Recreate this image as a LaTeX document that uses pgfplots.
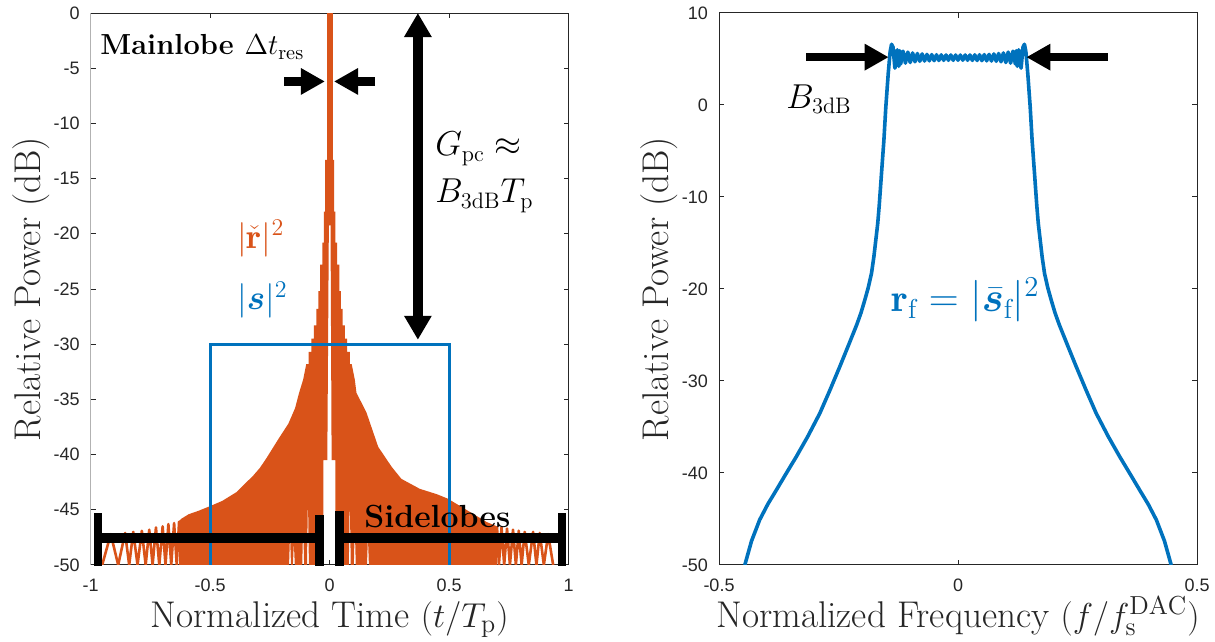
\documentclass[border=0pt]{standalone}
\usepackage{fontspec}
\usepackage{amsmath}
\usepackage{bm}
\usepackage{pgfplots}
\pgfplotsset{compat=1.18}
\usetikzlibrary{arrows.meta}

\newfontfamily\ticksans{Liberation Sans}
\definecolor{mlorange}{rgb}{0.85,0.325,0.098}
\definecolor{mlblue}{rgb}{0,0.447,0.741}
\definecolor{axgray}{gray}{0.15}

\tikzset{
  fat arrow/.style={line width=4.2pt, -{Triangle[width=12.5pt,length=12pt]}},
}
\pgfplotsset{
  panel/.style={
    scale only axis, width=239pt, height=276pt, anchor=south west,
    axis line style={axgray, line width=0.5pt},
    tick style={axgray, line width=0.5pt},
    major tick length=2.5pt,
    tick align=inside,
    /pgf/number format/assume math mode=true,
    tick label style={font=\ticksans\fontsize{9}{10}\selectfont, text=axgray},
    yticklabel style={xshift=-2pt},
    xticklabel style={yshift=-3.5pt},
    every axis x label/.style={at={(axis description cs:0.5,-0.1125)}, anchor=base,
      font=\fontsize{18.6}{21}\selectfont, text=axgray},
    every axis y label/.style={at={(axis description cs:-0.125,0.5)}, rotate=90, anchor=center,
      font=\fontsize{18.6}{21}\selectfont, text=axgray},
    clip mode=individual,
  },
}

\begin{document}
\begin{tikzpicture}
\useasboundingbox (0,0) rectangle (607.5pt,321pt);

% ---------------- time domain: matched-filter output ----------------
\begin{axis}[panel, at={(45.35pt,38.5pt)},
  xmin=-1, xmax=1, ymin=-50, ymax=0,
  xtick={-1,-0.5,0,0.5,1}, ytick={-50,-45,...,0},
  xlabel={Normalized Time $(t/T_{\mathrm{p}})$},
  ylabel={Relative Power (dB)}]

% dense sidelobe region, negative delays
\addplot[fill=mlorange, draw=none] coordinates {
 (-0.630,-50) (-0.630,-46.0) (-0.620,-45.8) (-0.590,-45.4) (-0.550,-45.1)
 (-0.504,-44.7) (-0.450,-44.2) (-0.390,-43.4) (-0.320,-41.9) (-0.292,-41.2)
 (-0.264,-40.3) (-0.215,-38.6) (-0.173,-37.2) (-0.145,-35.8) (-0.128,-34.4)
 (-0.111,-33.2) (-0.098,-31.8) (-0.088,-31.8) (-0.088,-30.7) (-0.077,-30.7)
 (-0.077,-29.5) (-0.066,-29.5) (-0.066,-28.3) (-0.056,-28.3) (-0.056,-26.8)
 (-0.047,-26.8) (-0.047,-25.2) (-0.040,-25.2) (-0.040,-22.8) (-0.031,-22.8)
 (-0.031,-20.8) (-0.024,-20.8) (-0.024,-18.0) (-0.019,-18.0) (-0.019,-13.3)
 (-0.004,-13.3) (-0.0035,-19.2) (-0.010,-40.5) (-0.026,-40.5) (-0.026,-50)
 (-0.087,-50) (-0.091,-43.7) (-0.095,-50)
 (-0.107,-50) (-0.111,-46.5) (-0.115,-50)
 (-0.146,-50) (-0.150,-48.0) (-0.154,-50)
 (-0.162,-50) (-0.166,-47.3) (-0.170,-50)
};
% dense sidelobe region, positive delays
\addplot[fill=mlorange, draw=none] coordinates {
 (0.700,-50) (0.700,-46.5) (0.656,-46.1) (0.587,-45.2) (0.495,-44.0)
 (0.450,-43.6) (0.377,-43.1) (0.300,-42.2) (0.259,-41.1) (0.203,-39.3)
 (0.154,-36.2) (0.112,-34.4) (0.105,-33.2) (0.092,-31.8) (0.084,-31.8)
 (0.084,-30.7) (0.073,-30.7) (0.073,-29.5) (0.064,-29.5) (0.064,-28.3)
 (0.054,-28.3) (0.054,-26.8) (0.047,-26.8) (0.047,-25.2) (0.040,-25.2)
 (0.040,-22.8) (0.031,-22.8) (0.031,-20.8) (0.024,-20.8) (0.024,-18.0)
 (0.019,-18.0) (0.019,-13.3)
 (0.004,-13.3) (0.0035,-19.2) (0.008,-40.5) (0.024,-40.5) (0.024,-50)
 (0.080,-50) (0.084,-43.7) (0.088,-50)
 (0.101,-50) (0.105,-46.5) (0.109,-50)
 (0.156,-50) (0.160,-47.5) (0.164,-50)
};
% mainlobe
\addplot[mlorange, line width=2.8pt, line cap=round] coordinates {(0,0) (0,-19)};
% resolved far sidelobes
\addplot[mlorange, line width=1.3pt, line join=round] coordinates {
 (-0.952,-50) (-0.916,-47.2) (-0.885,-50) (-0.856,-47.1) (-0.839,-50)
 (-0.822,-47.0) (-0.804,-50) (-0.786,-46.9) (-0.770,-50) (-0.755,-46.8)
 (-0.741,-50) (-0.727,-46.6) (-0.713,-50) (-0.699,-46.5) (-0.687,-50)
 (-0.675,-46.3) (-0.663,-50) (-0.651,-46.2) (-0.640,-50) (-0.630,-46.0)
};
\addplot[mlorange, line width=1.3pt, line join=round] coordinates {
 (0.700,-46.5) (0.708,-50) (0.719,-46.6) (0.730,-50) (0.742,-46.7)
 (0.754,-50) (0.767,-46.8) (0.779,-50) (0.791,-46.9) (0.803,-50)
 (0.816,-47.0) (0.833,-50) (0.851,-47.0) (0.865,-50) (0.879,-47.1)
 (0.896,-50) (0.914,-47.2) (0.935,-50)
};
% transmitted pulse power
\addplot[mlblue, line width=1.65pt] coordinates {(-0.5,-50) (-0.5,-30) (0.5,-30) (0.5,-50)};

\draw[gray!60, line width=0.6pt] (rel axis cs:0,0) -- (rel axis cs:0,1);

% annotations
\draw[fat arrow] (axis cs:-0.19,-6.2) -- (axis cs:-0.02,-6.2);
\draw[fat arrow] (axis cs:0.19,-6.2) -- (axis cs:0.018,-6.2);
\draw[line width=5pt, {Triangle[width=13pt,length=12pt]}-{Triangle[width=13pt,length=12pt]}]
  (axis cs:0.369,0) -- (axis cs:0.369,-29.6);
\draw[line width=4.6pt] (axis cs:-0.97,-47.55) -- (axis cs:-0.043,-47.55);
\draw[line width=4.6pt] (axis cs:0.041,-47.55) -- (axis cs:0.971,-47.55);
\draw[line width=4.2pt] (axis cs:-0.97,-45.3) -- (axis cs:-0.97,-50.1);
\draw[line width=4.2pt] (axis cs:-0.043,-45.5) -- (axis cs:-0.043,-50.1);
\draw[line width=4.2pt] (axis cs:0.041,-45.1) -- (axis cs:0.041,-50.1);
\draw[line width=4.2pt] (axis cs:0.971,-45.3) -- (axis cs:0.971,-50.1);

\node[anchor=base west, inner sep=0pt, font=\bfseries\fontsize{14.5}{16}\selectfont]
  at (axis cs:-0.961,-3.8) {Mainlobe $\Delta t_{\mathrm{res}}$};
\node[anchor=base west, inner sep=0pt, font=\fontsize{16}{18}\selectfont]
  at (axis cs:0.44,-12.95) {$G_{\mathrm{pc}} \approx$};
\node[anchor=base west, inner sep=0pt, font=\fontsize{16}{18}\selectfont]
  at (axis cs:0.44,-17.2) {$B_{\mathrm{3dB}}T_{\mathrm{p}}$};
\node[anchor=base west, inner sep=0pt, text=mlorange, font=\fontsize{17.5}{19}\selectfont]
  at (axis cs:-0.388,-21.3) {$|\check{\mathbf{r}}|^2$};
\node[anchor=base west, inner sep=0pt, text=mlblue, font=\fontsize{17.5}{19}\selectfont]
  at (axis cs:-0.388,-26.9) {$|\bm{s}|^2$};
\node[anchor=base west, inner sep=0pt, font=\bfseries\fontsize{16}{18}\selectfont]
  at (axis cs:0.143,-46.6) {Sidelobes};
\end{axis}

% ---------------- frequency domain: pulse spectrum ----------------
\begin{axis}[panel, at={(359.5pt,38.5pt)},
  xmin=-0.5, xmax=0.5, ymin=-50, ymax=10,
  xtick={-0.5,0,0.5}, ytick={-50,-40,...,10},
  xlabel={Normalized Frequency $(f/f_{\mathrm{s}}^{\mathrm{DAC}})$},
  ylabel={Relative Power (dB)}]

\addplot[mlblue, line width=1.8pt, line join=round] coordinates {
 (-0.446,-50) (-0.432,-47.4) (-0.415,-45.1) (-0.398,-43.4) (-0.380,-41.85)
 (-0.360,-40.1) (-0.338,-38.2) (-0.314,-36.0) (-0.289,-33.5) (-0.268,-31.0)
 (-0.247,-28.4) (-0.229,-26.1) (-0.212,-23.9) (-0.203,-22.6) (-0.195,-21.2)
 (-0.188,-19.9) (-0.181,-18.3) (-0.176,-16.5) (-0.172,-14.7) (-0.168,-12.9)
 (-0.165,-11.05) (-0.160,-7.4) (-0.155,-3.8) (-0.151,-0.2) (-0.146,3.4)
 (-0.142,5.8) (-0.139,6.6) (-0.136,6.3) (-0.132,4.0) (-0.127,6.0)
 (-0.124,4.2) (-0.122,5.9)
 (-0.120,4.45) (-0.115,5.85) (-0.110,4.55) (-0.105,5.75) (-0.100,4.62)
 (-0.095,5.66) (-0.090,4.70) (-0.085,5.60) (-0.080,4.75) (-0.075,5.55)
 (-0.070,4.78) (-0.065,5.50) (-0.060,4.80) (-0.055,5.48) (-0.050,4.82)
 (-0.045,5.46) (-0.040,4.84) (-0.035,5.45) (-0.030,4.85) (-0.025,5.44)
 (-0.020,4.86) (-0.015,5.44) (-0.010,4.86) (-0.005,5.43) (0.000,4.87)
 (0.005,5.43) (0.010,4.87) (0.015,5.44) (0.020,4.86) (0.025,5.44)
 (0.030,4.85) (0.035,5.45) (0.040,4.84) (0.045,5.46) (0.050,4.82)
 (0.055,5.48) (0.060,4.80) (0.065,5.50) (0.070,4.78) (0.075,5.55)
 (0.080,4.75) (0.085,5.60) (0.090,4.70) (0.095,5.66) (0.100,4.62)
 (0.105,5.75) (0.110,4.55) (0.115,5.85) (0.120,4.45)
 (0.122,5.9) (0.124,4.2) (0.127,6.0) (0.132,4.0) (0.136,6.3)
 (0.139,6.6) (0.142,5.8) (0.146,3.4) (0.151,-0.2) (0.155,-3.8)
 (0.160,-7.4) (0.165,-11.05) (0.168,-12.9) (0.172,-14.7) (0.176,-16.5)
 (0.181,-18.3) (0.188,-19.9) (0.195,-21.2) (0.203,-22.6) (0.212,-23.9)
 (0.229,-26.1) (0.247,-28.4) (0.268,-31.0) (0.289,-33.5) (0.314,-36.0)
 (0.338,-38.2) (0.360,-40.1) (0.380,-41.85) (0.398,-43.4) (0.415,-45.1)
 (0.432,-47.4) (0.446,-50)
};

\draw[fat arrow] (axis cs:-0.317,5.2) -- (axis cs:-0.145,5.2);
\draw[fat arrow] (axis cs:0.313,5.2) -- (axis cs:0.143,5.2);
\node[anchor=base west, inner sep=0pt, font=\fontsize{16}{18}\selectfont]
  at (axis cs:-0.36,-0.33) {$B_{\mathrm{3dB}}$};
\node[anchor=base west, inner sep=0pt, text=mlblue, font=\fontsize{19.5}{21}\selectfont]
  at (axis cs:-0.14,-22.5) {$\mathbf{r}_{\mathrm{f}} = |\bar{\bm{s}}_{\mathrm{f}}|^2$};
\end{axis}
\end{tikzpicture}
\end{document}
